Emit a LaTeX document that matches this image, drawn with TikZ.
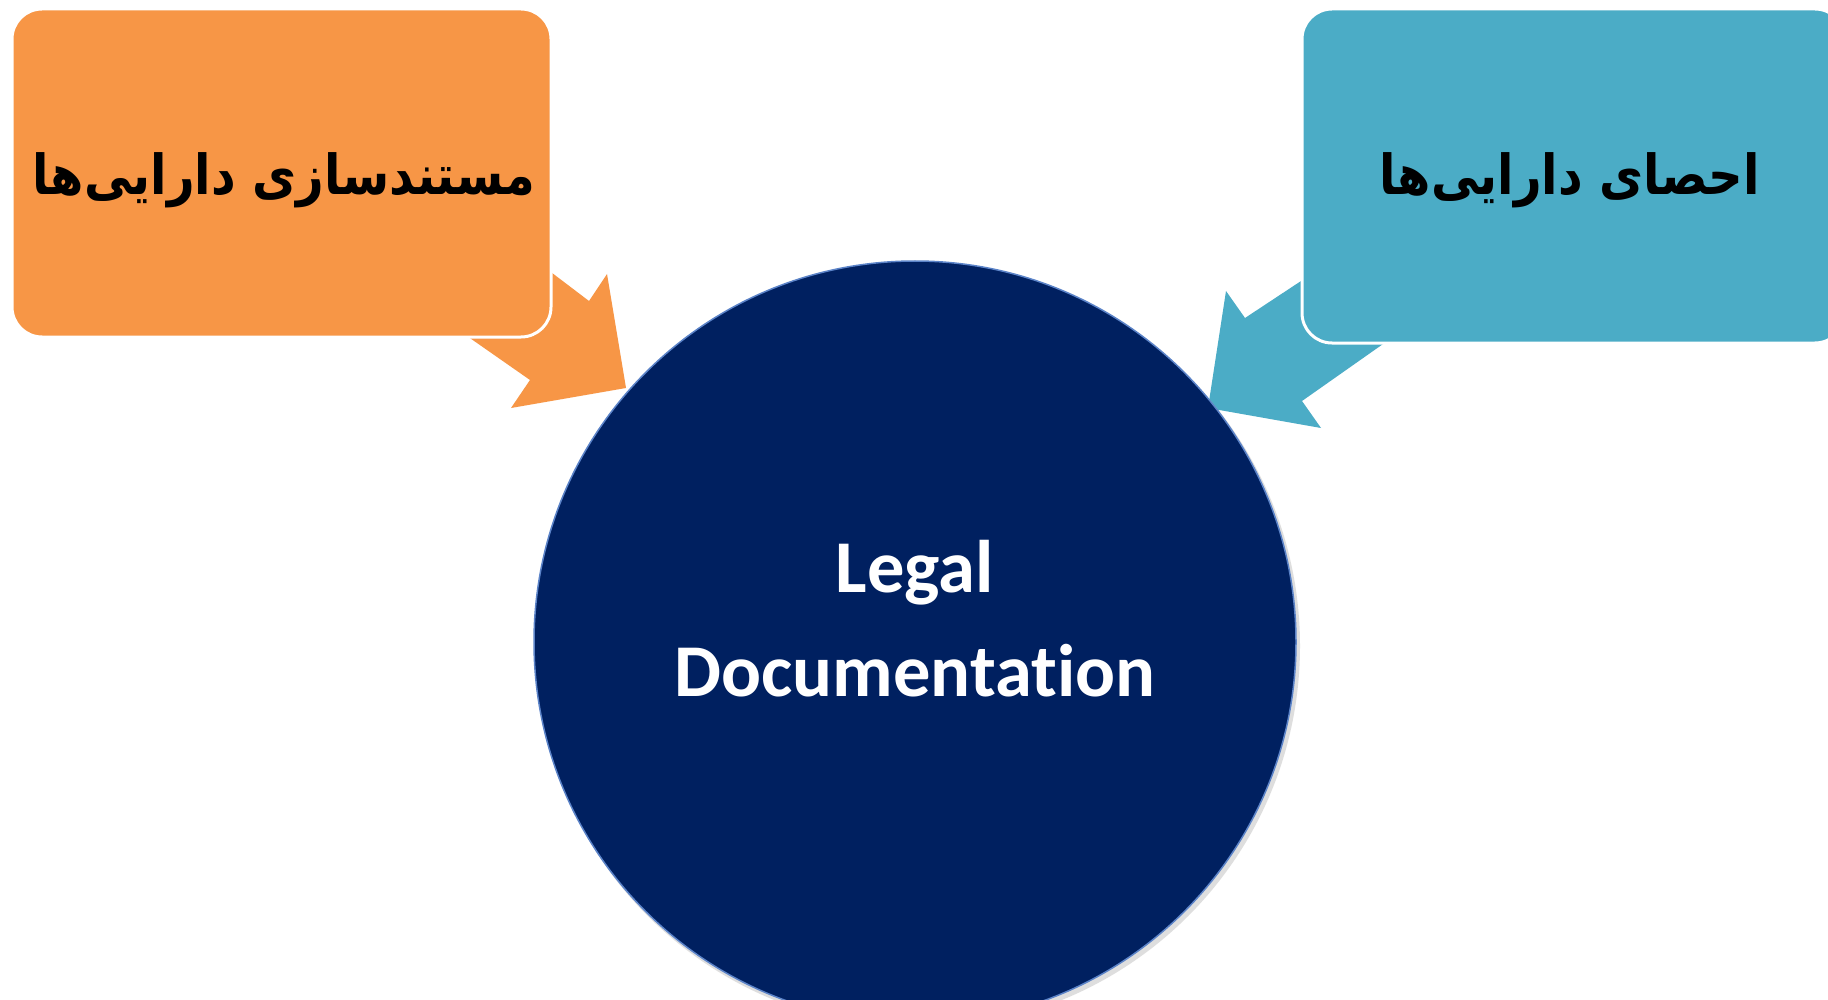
\documentclass[tikz,border=0pt]{standalone}
\usepackage{fontspec}
\newfontfamily\arabicfont[Script=Arabic]{DejaVu Sans}
\newfontfamily\carlito[Ligatures=NoCommon]{Carlito}
\TeXXeTstate=1
\definecolor{orangebox}{HTML}{F79646}
\definecolor{bluebox}{HTML}{4BACC6}
\definecolor{navy}{HTML}{002060}
\definecolor{rimblue}{HTML}{5B83C8}
\tikzset{
  box/.style={rounded corners=30pt, draw=white, line width=3pt},
  fatext/.style={font=\arabicfont\bfseries\fontsize{48}{58}\selectfont, text=black, yscale=1.15},
  entext/.style={font=\carlito\bfseries\fontsize{74.5}{104}\selectfont, text=white, align=center}
}
\begin{document}
\begin{tikzpicture}[x=1pt,y=-1pt]
\useasboundingbox (0,0) rectangle (1828,1000);
\fill[white] (0,0) rectangle (1828,1000);
% block arrows (behind boxes)
\fill[orangebox] (510,241) -- (589,301) -- (607,274) -- (626,388) -- (511,408) -- (530,380) -- (424,306) -- cycle;
\fill[bluebox] (1351,248) -- (1245,318) -- (1226,291) -- (1208,408) -- (1321,428) -- (1302,401) -- (1420,318) -- cycle;
% boxes
\draw[box, fill=orangebox] (12,9) rectangle (551,337);
\draw[box, fill=bluebox] (1302,9) rectangle (1845,343);
\node[fatext, transform shape] (asn) at (284,180) {\beginR مستندسازی دارایی‌ها\endR};
\node[fatext, transform shape] (ahs) at (1570,180) {\beginR احصای دارایی‌ها\endR};
% circle
\fill[black!25, opacity=0.5] (918,646) circle (382);
\node[circle, fill=navy, draw=rimblue, line width=1.5pt, minimum size=762pt, inner sep=0pt] (c) at (915,642) {};
\node[entext] (lg) at (915,619) {Legal\\Documentation};
\end{tikzpicture}
\end{document}
